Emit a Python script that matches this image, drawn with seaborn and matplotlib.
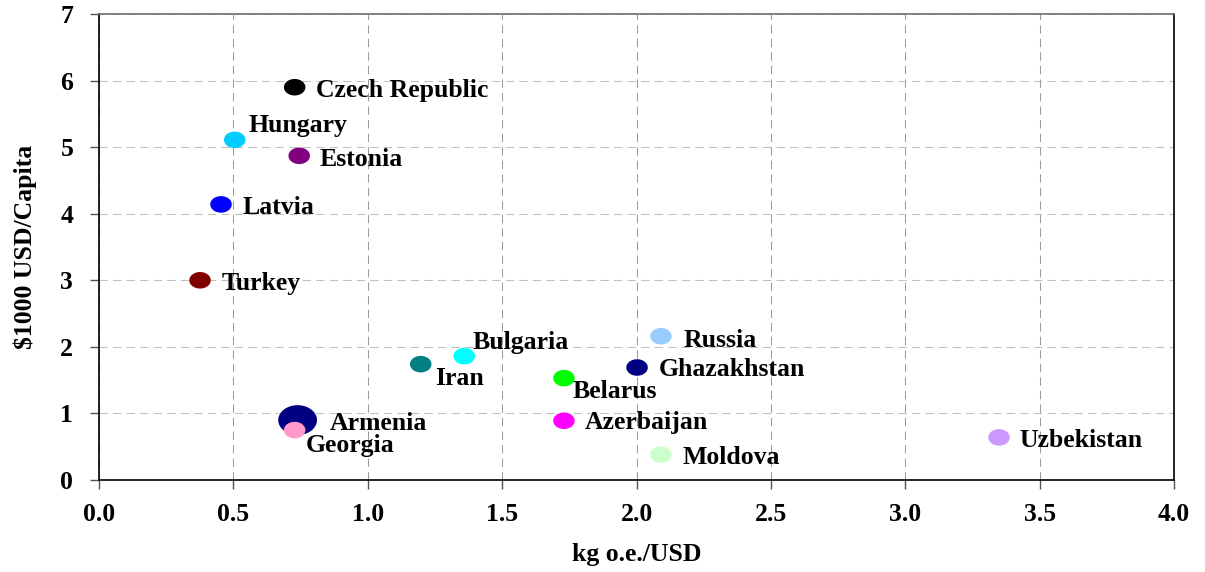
import numpy as np
import pandas as pd
import matplotlib
matplotlib.use("Agg")
import matplotlib.pyplot as plt
from matplotlib.path import Path
import seaborn as sns

countries = ["Czech Republic", "Hungary", "Estonia", "Latvia", "Turkey", "Armenia",
             "Georgia", "Iran", "Bulgaria", "Belarus", "Azerbaijan", "Russia",
             "Ghazakhstan", "Moldova", "Uzbekistan"]
energy_intensity = [0.728, 0.505, 0.745, 0.454, 0.376, 0.739, 0.728, 1.197, 1.359,
                    1.730, 1.730, 2.091, 2.002, 2.091, 3.349]
gdp_per_capita = [5.90, 5.11, 4.87, 4.14, 3.00, 0.90, 0.75, 1.74, 1.86,
                  1.53, 0.89, 2.16, 1.69, 0.38, 0.64]
colors = ["#000000", "#00CCFF", "#800080", "#0000FF", "#800000", "#000080",
          "#FF99CC", "#008080", "#00FFFF", "#00FF00", "#FF00FF", "#99CCFF",
          "#000080", "#CCFFCC", "#CC99FF"]
# label offsets (pixels: right, down) from marker centre to text left/baseline
label_dx = [21.5, 13.5, 20, 21, 22, 32.5, 11.5, 14.5, 8, 8.5, 20.5, 22.5, 21.5, 21.5, 20.7]
label_dy = [9.5, -8, 10, 10, 10, 9.5, 22, 21, -7, 20, 8.5, 10.5, 9, 9.5, 9.5]

df = pd.DataFrame({"country": countries, "x": energy_intensity, "y": gdp_per_capita})
df["big"] = ["big" if c == "Armenia" else "normal" for c in countries]

sns.set_style("white")
plt.rcParams["font.family"] = ["Liberation Serif", "DejaVu Serif"]
plt.rcParams["font.weight"] = "bold"
plt.rcParams["text.color"] = "black"
plt.rcParams["axes.labelcolor"] = "black"
plt.rcParams["xtick.color"] = "black"
plt.rcParams["ytick.color"] = "black"

FS = 18.5

fig = plt.figure(figsize=(12.05, 5.72), dpi=100)
ax = fig.add_axes([99/1205, 1 - 480/572, (1174-99)/1205, (480-14)/572])

t = np.linspace(0, 2*np.pi, 64)
ell = Path(np.column_stack([1.3*np.cos(t), np.sin(t)]), closed=True)

sns.scatterplot(data=df, x="x", y="y", hue="country", palette=dict(zip(countries, colors)),
                size="big", sizes={"big": 780, "normal": 240}, marker=ell,
                linewidth=0, legend=False, ax=ax, zorder=3)

px2pt = 72 / 100
for c, x, y, dx, dy in zip(countries, energy_intensity, gdp_per_capita, label_dx, label_dy):
    ax.annotate(c, (x, y), xytext=(dx*px2pt, -dy*px2pt), textcoords="offset points",
                ha="left", va="baseline", fontsize=FS, fontweight="bold",
                color="black", zorder=4)

ax.set_xlim(0, 4)
ax.set_ylim(0, 7)
ax.set_xticks(np.arange(0, 4.01, 0.5))
ax.set_xticklabels([f"{v:.1f}" for v in np.arange(0, 4.01, 0.5)])
ax.set_yticks(range(0, 8))
ax.tick_params(axis="both", which="major", bottom=True, left=True, direction="out",
               length=6.5, width=1, labelsize=FS, color="#555555", labelcolor="black")
ax.tick_params(axis="y", pad=12)
ax.tick_params(axis="x", pad=10)
for lab in ax.get_xticklabels() + ax.get_yticklabels():
    lab.set_fontweight("bold")

ax.xaxis.grid(True, color="#9a9a9a", linestyle=(0, (8, 5)), linewidth=0.75)
ax.yaxis.grid(True, color="#c0c0c0", linestyle=(0, (8, 5)), linewidth=0.75)
ax.set_axisbelow(True)

for s in ["left", "bottom", "right"]:
    ax.spines[s].set_color("black")
    ax.spines[s].set_linewidth(1.2)
ax.spines["top"].set_color("#707070")
ax.spines["top"].set_linewidth(1.2)

ax.set_xlabel("kg o.e./USD", fontsize=FS, fontweight="bold", labelpad=12, color="black")
ax.set_ylabel(r"\$1000 USD/Capita", fontsize=FS, fontweight="bold", labelpad=17, color="black")

fig.savefig("out.png", dpi=100)
